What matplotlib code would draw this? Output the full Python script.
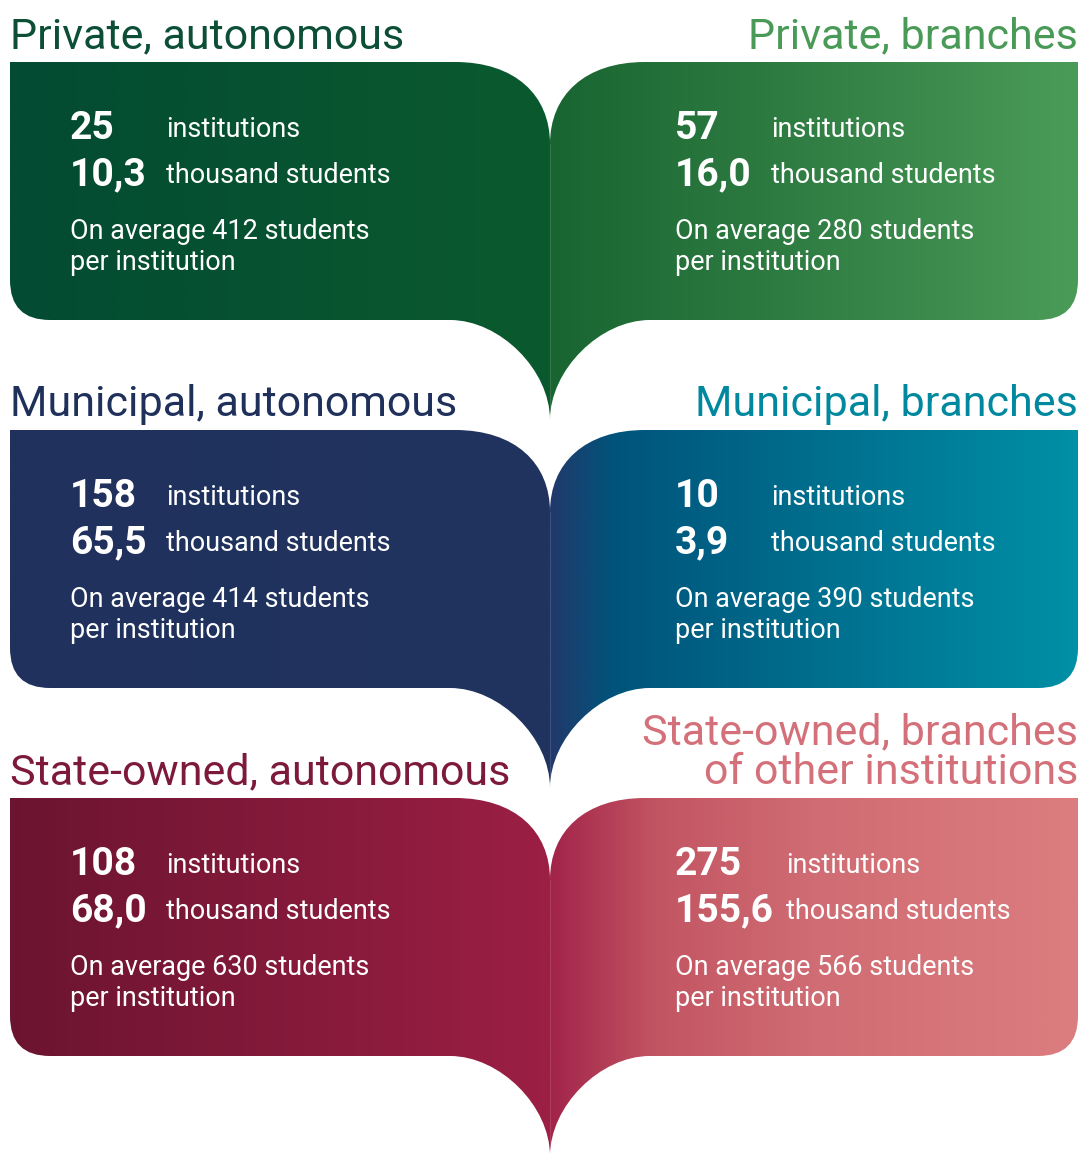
import numpy as np
import matplotlib
matplotlib.use("Agg")
import matplotlib.pyplot as plt
from matplotlib.path import Path
from matplotlib.patches import PathPatch
from matplotlib.colors import LinearSegmentedColormap

# ---------------- data ----------------
titles = ["Private, autonomous", "Private, branches",
          "Municipal, autonomous", "Municipal, branches",
          "State-owned, autonomous", "State-owned, branches\nof other institutions"]
institutions = [25, 57, 158, 10, 108, 275]
students_thousand = [10.3, 16.0, 65.5, 3.9, 68.0, 155.6]
avg_students = [412, 280, 414, 390, 630, 566]

# ---------------- style ----------------
title_colors = ["#0c4f36", "#4a9a57", "#1f305b", "#00889f", "#7d1a3b", "#d4707a"]
gradients = [
    [(0, "#034b33"), (1, "#0b5a2e")],
    [(0, "#196532"), (0.5, "#317f44"), (1, "#4b9b58")],
    [(0, "#1f315c"), (1, "#21345f")],
    [(0, "#22396a"), (0.12, "#00547b"), (1, "#0090a6")],
    [(0, "#6b1430"), (1, "#9c1f45")],
    [(0, "#a2244a"), (0.2, "#c25562"), (0.5, "#d06c73"), (1, "#dc7d80")],
]

W, H = 1078, 1153
SPINE = 550
LEFT_EDGE, RIGHT_EDGE = 10, 1078
ROW_TOPS = [62, 430, 798]
PANEL_H = 258
FONT = ["Roboto", "DejaVu Sans"]


def px(v):
    return v * 0.72


def panel_path(top, side):
    # side=-1 left page, side=+1 right page
    bottom = top + PANEL_H
    tip = bottom + 100
    join = top + 82
    edge = LEFT_EDGE if side < 0 else RIGHT_EDGE
    s = side
    r = 40
    verts = [
        (edge, top),
        (SPINE + s * 95, top),
        (SPINE + s * 35, top), (SPINE, top + 33), (SPINE, join),
        (SPINE, tip),
        (SPINE, tip - 50), (SPINE + s * 50, bottom), (SPINE + s * 100, bottom),
        (edge - s * r, bottom),
        (edge, bottom), (edge, bottom - r),
        (edge, top),
        (edge, top),
    ]
    codes = [Path.MOVETO, Path.LINETO,
             Path.CURVE4, Path.CURVE4, Path.CURVE4,
             Path.LINETO,
             Path.CURVE4, Path.CURVE4, Path.CURVE4,
             Path.LINETO,
             Path.CURVE3, Path.CURVE3,
             Path.LINETO, Path.CLOSEPOLY]
    return Path(verts, codes), join, tip


fig = plt.figure(figsize=(W / 100, H / 100), dpi=100)
ax = fig.add_axes([0, 0, 1, 1])
grad = np.linspace(0, 1, 512).reshape(1, -1)

for i in range(6):
    row, col = divmod(i, 2)
    side = -1 if col == 0 else 1
    top = ROW_TOPS[row]
    path, join, tip = panel_path(top, side)
    patch = PathPatch(path, facecolor="none", edgecolor="none", transform=ax.transData)
    ax.add_patch(patch)
    cmap = LinearSegmentedColormap.from_list(f"g{i}", gradients[i])
    if side < 0:
        ext = (LEFT_EDGE, SPINE, tip, top)
    else:
        ext = (SPINE, RIGHT_EDGE, tip, top)
    im = ax.imshow(grad, extent=ext, cmap=cmap, aspect="auto", interpolation="bilinear")
    im.set_clip_path(patch)

    # spine highlight
    if side > 0:
        ax.plot([SPINE, SPINE], [join, tip - 4], color="white", alpha=0.12, lw=0.8)

    # title (last line baseline sits just above the panel)
    ax.text(LEFT_EDGE if side < 0 else RIGHT_EDGE, top - 14, titles[i],
            ha="left" if side < 0 else "right", va="baseline",
            multialignment="right", linespacing=0.95,
            fontsize=px(43), color=title_colors[i], family=FONT)

    # figures
    x0 = 70 if side < 0 else 675
    n_inst = str(institutions[i])
    n_stud = f"{students_thousand[i]:.1f}".replace(".", ",")
    dx = 96 if len(n_stud) <= 4 else 111
    ax.text(x0, top + 77, n_inst, ha="left", va="baseline", fontsize=px(39),
            color="white", family=FONT, fontweight="bold")
    ax.text(x0, top + 123, n_stud, ha="left", va="baseline", fontsize=px(39),
            color="white", family=FONT, fontweight="bold")
    ax.text(x0 + dx, top + 75, "institutions", ha="left", va="baseline",
            fontsize=px(27), color="white", family=FONT)
    ax.text(x0 + dx, top + 121, "thousand students", ha="left", va="baseline",
            fontsize=px(27), color="white", family=FONT)
    ax.text(x0, top + 177, f"On average {avg_students[i]} students", ha="left",
            va="baseline", fontsize=px(27), color="white", family=FONT)
    ax.text(x0, top + 208, "per institution", ha="left",
            va="baseline", fontsize=px(27), color="white", family=FONT)

ax.set_xlim(0, W)
ax.set_ylim(H, 0)
ax.axis("off")
fig.savefig("out.png", dpi=100, facecolor="white")
